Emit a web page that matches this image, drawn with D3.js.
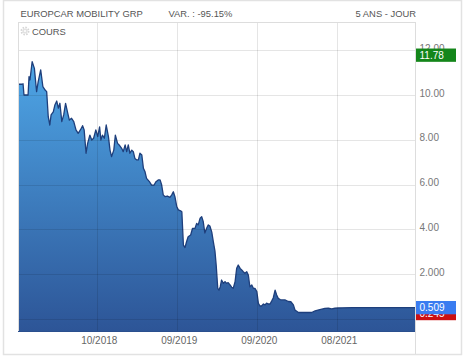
<!DOCTYPE html>
<html><head><meta charset="utf-8">
<script src="https://cdn.jsdelivr.net/npm/d3@7"></script>
<style>html,body{margin:0;padding:0;background:#fff;}svg{display:block;}</style>
</head><body>
<svg id="c" width="465" height="358"></svg>
<script>
// ---- data ----
const title = "EUROPCAR MOBILITY GRP";
const variation = "VAR. : -95.15%";
const period = "5 ANS - JOUR";
const seriesName = "COURS";
const tradingDay = [0,13,16,19,32,35,38,45,52,59,64,72,79,86,91,96,101,105,112,117,123,128,133,139,145,151,158,163,170,177,184,191,198,205,210,216,221,228,234,240,247,253,259,263,268,274,280,287,292,297,304,309,316,321,329,334,340,345,350,355,361,366,371,377,382,387,393,398,403,408,417,424,432,438,445,451,456,461,467,474,482,488,493,498,504,509,516,520,525,530,535,540,548,554,562,567,572,578,583,588,593,599,604,609,615,620,625,629,634,638,642,646,652,657,662,667,673,678,683,689,694,699,705,710,715,720,726,731,736,742,747,752,758,763,768,773,779,784,789,794,800,805,810,816,821,826,832,837,847,858,866,874,879,890,911,932,943,958,974,985,996,1006,1017,1030,1060,1100,1150,1200,1260];
const closePrice = [10.48,10.48,10.50,10.00,10.00,10.82,10.67,11.49,11.19,10.15,10.59,11.12,10.37,10.22,10.15,9.03,8.66,9.11,9.25,9.55,9.73,9.41,9.63,8.81,9.11,9.63,9.18,8.88,8.96,8.81,8.44,8.29,8.44,8.63,8.44,7.40,7.84,8.21,7.99,8.07,8.44,8.14,8.58,7.99,8.21,8.07,8.66,8.14,7.54,7.25,7.54,8.21,7.84,7.77,7.62,7.47,7.77,7.47,7.77,7.40,7.54,7.47,7.17,7.10,7.10,7.40,7.32,6.73,6.58,6.28,6.13,5.98,5.98,6.13,6.21,6.21,5.98,5.54,5.46,5.49,5.43,5.54,5.68,5.46,5.01,4.87,4.83,4.79,3.30,3.19,3.45,3.67,3.75,4.05,4.05,4.27,4.20,4.50,4.57,4.34,3.84,4.06,4.20,4.15,3.88,3.44,3.04,2.41,1.37,1.29,1.44,1.74,1.59,1.67,1.59,1.62,1.52,1.42,1.37,1.67,2.26,2.41,2.26,2.19,2.11,2.04,2.11,1.96,1.44,1.52,1.37,1.37,1.22,0.70,0.58,0.58,0.67,0.63,0.71,0.67,0.67,0.80,0.94,1.29,1.07,0.92,0.87,0.85,0.85,0.78,0.77,0.63,0.40,0.29,0.29,0.29,0.36,0.42,0.47,0.48,0.45,0.48,0.49,0.50,0.51,0.51,0.51,0.51,0.509];
const xTickDays = [250,504,758,1012];
const xTickLabels = ["10/2018","09/2019","09/2020","08/2021"];
const yGridValues = [0,2,4,6,8,10,12];
const yTickValues = [2,4,6,8,10,12];
const yTickLabels = ["2.000","4.00","6.00","8.00","10.00","12.00"];
const highLabel = {value: 11.78, text: "11.78"};
const lastLabel = {value: 0.509, text: "0.509"};
const lowLabel = {value: 0.245, text: "0.245"};

// ---- layout ----
const L = 18, R = 415, T = 22, B = 331;
const svg = d3.select("#c");
const font = "'Liberation Sans', Arial, sans-serif";

const x = d3.scaleLinear().domain([0, 1260]).range([L, R]);
const y = d3.scaleLinear().domain([-0.536, 13.259]).range([B, T]);
const data = tradingDay.map((d, i) => ({d, v: closePrice[i]}));

// outer panel
svg.append("rect").attr("x", 3.5).attr("y", 0.5).attr("width", 458).attr("height", 354)
  .attr("fill", "#fff").attr("stroke", "#e2e2e2").attr("stroke-width", 1.5);

// header
svg.append("text").attr("x", 20.5).attr("y", 17.4).text(title)
  .attr("font-family", font).attr("font-size", 9.4).attr("fill", "#555");
svg.append("text").attr("x", 168.5).attr("y", 17.4).text(variation)
  .attr("font-family", font).attr("font-size", 9.4).attr("fill", "#555");
svg.append("text").attr("x", 416).attr("y", 17.4).attr("text-anchor", "end").text(period)
  .attr("font-family", font).attr("font-size", 9.4).attr("fill", "#555");

// gradient
const defs = svg.append("defs");
const grad = defs.append("linearGradient").attr("id", "g").attr("gradientUnits", "userSpaceOnUse")
  .attr("x1", 0).attr("y1", 55).attr("x2", 0).attr("y2", B);
grad.append("stop").attr("offset", 0).attr("stop-color", "#4fa8e8");
grad.append("stop").attr("offset", 1).attr("stop-color", "#2d5597");

// area
const area = d3.area().x(p => x(p.d)).y0(B).y1(p => y(p.v));
svg.append("path").datum(data).attr("d", area).attr("fill", "url(#g)");
const line = d3.line().x(p => x(p.d)).y(p => y(p.v));
svg.append("path").datum(data).attr("d", line).attr("fill", "none")
  .attr("stroke", "#1e3f7c").attr("stroke-width", 1.3).attr("stroke-linejoin", "round");

// gridlines on top
const grid = svg.append("g").attr("stroke", "rgba(0,0,0,0.1)").attr("stroke-width", 1);
grid.selectAll("line.h").data(yGridValues).enter().append("line")
  .attr("x1", L).attr("x2", R).attr("y1", v => Math.round(y(v)) + 0.5).attr("y2", v => Math.round(y(v)) + 0.5);
grid.selectAll("line.v").data(xTickDays).enter().append("line")
  .attr("y1", T).attr("y2", B).attr("x1", d => Math.round(x(d)) + 0.5).attr("x2", d => Math.round(x(d)) + 0.5);
// frame
svg.append("line").attr("x1", L).attr("x2", R).attr("y1", T + 0.5).attr("y2", T + 0.5).attr("stroke", "#ddd");
svg.append("line").attr("x1", L + 0.5).attr("x2", L + 0.5).attr("y1", T).attr("y2", B).attr("stroke", "#ddd");
svg.append("line").attr("x1", R + 0.5).attr("x2", R + 0.5).attr("y1", T).attr("y2", 354).attr("stroke", "#ddd");
svg.append("line").attr("x1", L).attr("x2", R).attr("y1", B + 0.5).attr("y2", B + 0.5).attr("stroke", "#2a4f8e");

// series label with gear
const gear = svg.append("g").attr("transform", "translate(25,31)");
gear.append("circle").attr("r", 3.6).attr("fill", "none").attr("stroke", "#d6d6d6").attr("stroke-width", 1.8)
  .attr("stroke-dasharray", "1.6 1.2");
gear.append("circle").attr("r", 2.6).attr("fill", "#e2e2e2");
gear.append("circle").attr("r", 1).attr("fill", "#fff");
svg.append("text").attr("x", 32).attr("y", 34.5).text(seriesName)
  .attr("font-family", font).attr("font-size", 9.4).attr("fill", "#555");

// x labels
svg.selectAll("text.xl").data(xTickDays).enter().append("text")
  .attr("x", (d) => x(d) + 2.5).attr("y", 344.3).attr("text-anchor", "middle")
  .text((d, i) => xTickLabels[i])
  .attr("font-family", font).attr("font-size", 10).attr("fill", "#666");

// y labels
svg.selectAll("text.yl").data(yTickValues).enter().append("text")
  .attr("x", 419.5).attr("y", v => y(v) + 1.6)
  .text((v, i) => yTickLabels[i])
  .attr("font-family", font).attr("font-size", 10).attr("fill", "#777");

// value boxes
function box(lbl, fill) {
  const cy = y(lbl.value);
  svg.append("rect").attr("x", 416).attr("y", cy - 6.6).attr("width", 40).attr("height", 13.3).attr("fill", fill);
  svg.append("text").attr("x", 419.5).attr("y", cy + 3.6).text(lbl.text)
    .attr("font-family", font).attr("font-size", 10).attr("fill", "#fff");
}
box(highLabel, "#14861a");
box(lowLabel, "#cc1111");
box(lastLabel, "#3a7cf0");
</script>
</body></html>
